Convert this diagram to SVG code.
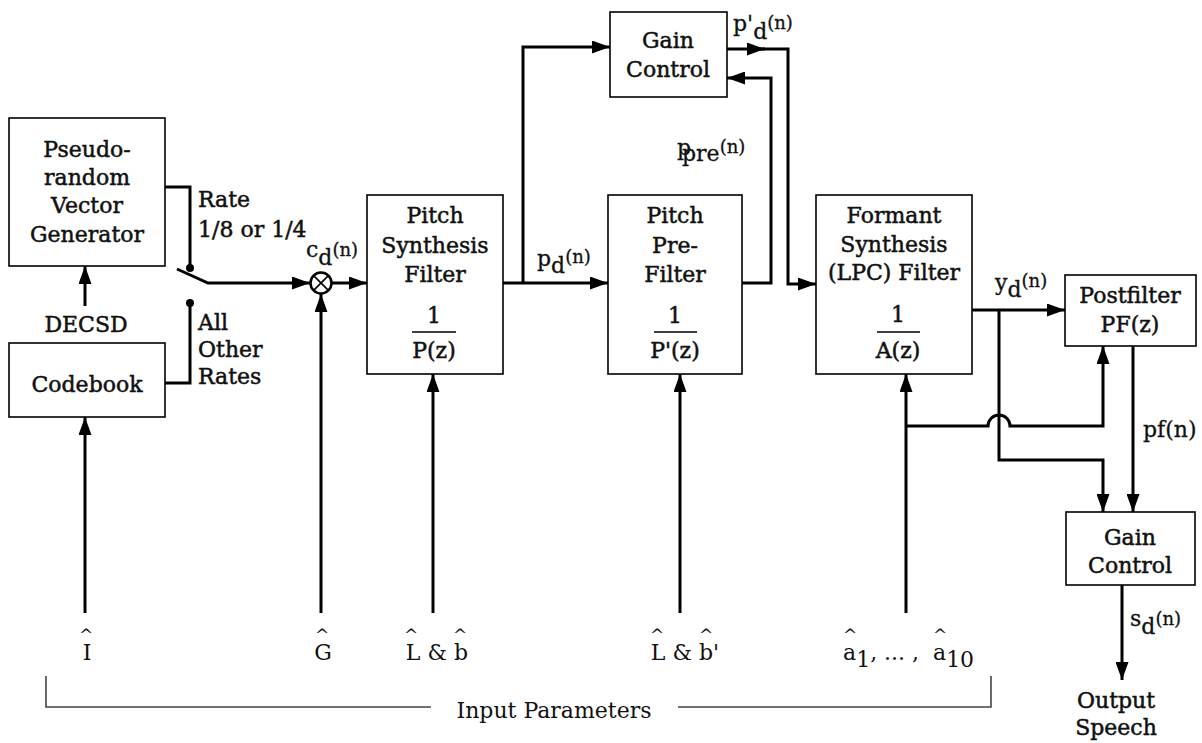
<svg xmlns="http://www.w3.org/2000/svg" width="1202" height="743" viewBox="0 0 1202 743">
<style>
.box{fill:#fff;stroke:#000;stroke-width:1.6}
.ln{fill:none;stroke:#000;stroke-width:3}
.br{fill:none;stroke:#444;stroke-width:1.6}
.t{font-family:"DejaVu Serif",serif;font-size:22px;fill:#111;stroke:#111;stroke-width:0.5;text-anchor:middle}
.s{font-family:"DejaVu Serif",serif;font-size:22px;fill:#111;stroke:#111;stroke-width:0.5}
.r{font-family:"DejaVu Serif",serif;font-size:22px;fill:#111;stroke:#111;stroke-width:0.3}
.rc{font-family:"DejaVu Serif",serif;font-size:22px;fill:#111;text-anchor:middle}
.h{font-family:"DejaVu Serif",serif;font-size:17px;fill:#111;text-anchor:middle}
.n{font-size:18px}
.fr{stroke:#000;stroke-width:1.6}
</style>
<defs>
<marker id="a" markerUnits="userSpaceOnUse" markerWidth="19" markerHeight="13" refX="18" refY="6.5" orient="auto">
<path d="M0,0 L18,6.5 L0,13 z" fill="#000"/>
</marker>
</defs>

<g id="pseudo">
<rect class="box" x="9" y="118" width="156" height="148"/>
<text class="t" x="87" y="157">Pseudo-</text>
<text class="t" x="87" y="185">random</text>
<text class="t" x="87" y="213">Vector</text>
<text class="t" x="87" y="242">Generator</text>
</g>
<g id="codebook">
<rect class="box" x="9" y="343" width="156" height="74"/>
<text class="t" x="87" y="392">Codebook</text>
</g>
<g id="decsd"><text class="t" x="86" y="332">DECSD</text></g>
<g id="switch-labels">
<text class="s" x="198" y="207">Rate</text>
<text class="s" x="198" y="237">1/8 or 1/4</text>
<text class="s" x="198" y="330">All</text>
<text class="s" x="198" y="357">Other</text>
<text class="s" x="198" y="384">Rates</text>
</g>
<g id="mult">
<circle cx="321" cy="283" r="10.5" fill="#fff" stroke="#000" stroke-width="2.5"/>
<path d="M313.6,275.6 L328.4,290.4 M328.4,275.6 L313.6,290.4" stroke="#000" stroke-width="1.6"/>
<text class="r" x="306" y="257">c<tspan dy="8">d</tspan><tspan class="n" dy="-9">(n)</tspan></text>
</g>
<g id="pitch-synth">
<rect class="box" x="367" y="195" width="136" height="179"/>
<text class="t" x="435" y="223">Pitch</text>
<text class="t" x="435" y="253">Synthesis</text>
<text class="t" x="435" y="282">Filter</text>
<text class="t" x="434" y="323">1</text>
<line class="fr" x1="412" y1="332" x2="456" y2="332"/>
<text class="t" x="434" y="358">P(z)</text>
</g>
<g id="pitch-pre">
<rect class="box" x="608" y="195" width="134" height="179"/>
<text class="t" x="675" y="223">Pitch</text>
<text class="t" x="675" y="253">Pre-</text>
<text class="t" x="675" y="282">Filter</text>
<text class="t" x="675" y="323">1</text>
<line class="fr" x1="654" y1="332" x2="697" y2="332"/>
<text class="t" x="675" y="358">P'(z)</text>
</g>
<g id="gain-top">
<rect class="box" x="610" y="12" width="117" height="85"/>
<text class="t" x="668" y="48">Gain</text>
<text class="t" x="668" y="77">Control</text>
</g>
<g id="formant">
<rect class="box" x="816" y="195" width="156" height="179"/>
<text class="t" x="894" y="223">Formant</text>
<text class="t" x="894" y="252">Synthesis</text>
<text class="t" x="894" y="280">(LPC) Filter</text>
<text class="t" x="898" y="322">1</text>
<line class="fr" x1="877" y1="332" x2="920" y2="332"/>
<text class="t" x="898" y="358">A(z)</text>
</g>
<g id="postfilter">
<rect class="box" x="1065" y="275" width="131" height="71"/>
<text class="t" x="1130" y="303">Postfilter</text>
<text class="t" x="1130" y="332">PF(z)</text>
</g>
<g id="gain-bottom">
<rect class="box" x="1066" y="512" width="129" height="73"/>
<text class="t" x="1130" y="545">Gain</text>
<text class="t" x="1130" y="573">Control</text>
</g>

<g id="connectors">
<path class="ln" d="M165,187 H190 V266"/>
<circle cx="190" cy="268" r="4" fill="#000"/>
<path class="ln" d="M177,269 L208,283 H310" marker-end="url(#a)"/>
<circle cx="190" cy="303" r="4" fill="#000"/>
<path class="ln" d="M190,303 V383 H165"/>
<path class="ln" d="M85,306 V266" marker-end="url(#a)"/>
<path class="ln" d="M332,283 H367" marker-end="url(#a)"/>
<path class="ln" d="M321,613 V294" marker-end="url(#a)"/>
<path class="ln" d="M85,613 V417" marker-end="url(#a)"/>
<path class="ln" d="M433,613 V374" marker-end="url(#a)"/>
<path class="ln" d="M680,613 V374" marker-end="url(#a)"/>
<path class="ln" d="M906,613 V374" marker-end="url(#a)"/>
<path class="ln" d="M503,283 H608" marker-end="url(#a)"/>
<path class="ln" d="M523,283 V47 H610" marker-end="url(#a)"/>
<path class="ln" d="M727,49 H765" marker-end="url(#a)"/>
<path class="ln" d="M760,49 H788 V284 H816" marker-end="url(#a)"/>
<path class="ln" d="M742,283 H771 V78 H727" marker-end="url(#a)"/>
<path class="ln" d="M972,310 H1065" marker-end="url(#a)"/>
<path class="ln" d="M999,310 V460 H1103 V512" marker-end="url(#a)"/>
<path class="ln" d="M906,426 H988 A11,11 0 0 1 1010,426 H1103 V346" marker-end="url(#a)"/>
<path class="ln" d="M1133,346 V512" marker-end="url(#a)"/>
<path class="ln" d="M1122,585 V680" marker-end="url(#a)"/>
</g>

<g id="signal-labels">
<text class="r" x="537" y="266">p<tspan dy="7">d</tspan><tspan class="n" dy="-10">(n)</tspan></text>
<text class="r" x="733" y="31">p'<tspan dy="8">d</tspan><tspan class="n" dy="-10">(n)</tspan></text>
<text class="r" x="677" y="155">p<tspan x="682" dy="6">pre</tspan><tspan class="n" dy="-8">(n)</tspan></text>
<text class="r" x="995" y="290">y<tspan dy="7">d</tspan><tspan class="n" dy="-10">(n)</tspan></text>
<text class="r" x="1143" y="437">pf(n)</text>
<text class="r" x="1130" y="626">s<tspan dy="8">d</tspan><tspan class="n" dy="-9">(n)</tspan></text>
</g>

<g id="inputs">
<text class="h" x="86" y="641">^</text>
<text class="rc" x="87" y="660">I</text>
<text class="h" x="322" y="641">^</text>
<text class="rc" x="323" y="660">G</text>
<text class="h" x="411" y="641">^</text>
<text class="h" x="460" y="641">^</text>
<text class="rc" x="437" y="660">L &amp; b</text>
<text class="h" x="657" y="641">^</text>
<text class="h" x="706" y="641">^</text>
<text class="rc" x="685" y="660">L &amp; b'</text>
<text class="h" x="850" y="641">^</text>
<text class="h" x="940" y="641">^</text>
<text class="rc" x="843" y="660" style="text-anchor:start">a<tspan dy="7">1</tspan><tspan dy="-7">, ... , </tspan><tspan x="933">a</tspan><tspan dy="7">10</tspan></text>
</g>

<g id="bracket">
<path class="br" d="M46,676 V707 H431"/>
<path class="br" d="M678,707 H991 V676"/>
<text class="rc" x="554" y="718">Input Parameters</text>
</g>
<g id="output">
<text class="t" x="1116" y="708">Output</text>
<text class="t" x="1116" y="735">Speech</text>
</g>
</svg>
